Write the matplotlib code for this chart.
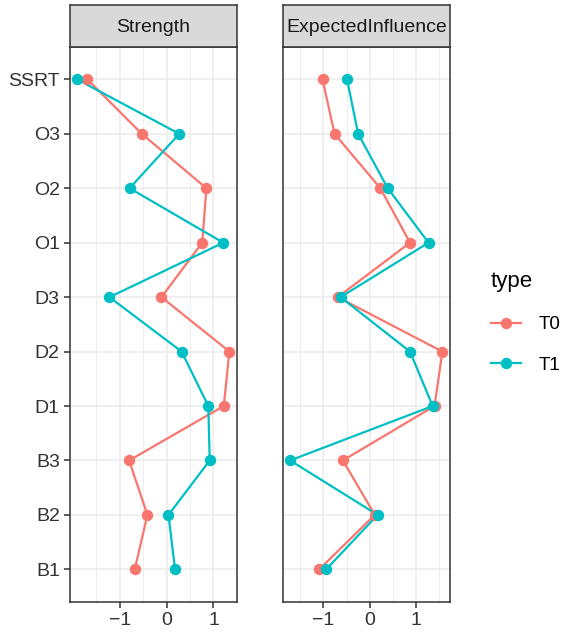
import matplotlib
matplotlib.use("Agg")
import matplotlib.pyplot as plt
from matplotlib.lines import Line2D
import numpy as np

plt.rcParams['font.family'] = ['Liberation Sans', 'DejaVu Sans']

nodes = ["B1", "B2", "B3", "D1", "D2", "D3", "O1", "O2", "O3", "SSRT"]
panels = ["Strength", "ExpectedInfluence"]
types = ["T0", "T1"]
colors = {"T0": "#F8766D", "T1": "#00BFC4"}

strength_T0 = [-0.68, -0.41, -0.80, 1.22, 1.34, -0.11, 0.76, 0.85, -0.53, -1.69]
strength_T1 = [0.18, 0.04, 0.92, 0.89, 0.32, -1.22, 1.21, -0.79, 0.27, -1.91]
ei_T0 = [-1.09, 0.11, -0.58, 1.40, 1.57, -0.69, 0.87, 0.23, -0.76, -1.02]
ei_T1 = [-0.94, 0.17, -1.72, 1.36, 0.87, -0.63, 1.27, 0.39, -0.25, -0.49]

data = {
    "Strength": {"T0": strength_T0, "T1": strength_T1},
    "ExpectedInfluence": {"T0": ei_T0, "T1": ei_T1},
}
xticks = [-1, 0, 1]

W, H = 567, 635
fig = plt.figure(figsize=(W / 100, H / 100), dpi=100)

panel_px = [(69.5, 237), (282.5, 450)]
top_px, bot_px = 46.7, 602
strip_top_px = 5

ypos = np.arange(len(nodes))
for i, (pname, (x0, x1)) in enumerate(zip(panels, panel_px)):
    ax = fig.add_axes([x0 / W, 1 - bot_px / H, (x1 - x0) / W, (bot_px - top_px) / H])
    ax.set_facecolor("white")
    allv = np.array(data[pname]["T0"] + data[pname]["T1"])
    lo, hi = allv.min(), allv.max()
    pad = 0.05 * (hi - lo)
    ax.set_xlim(lo - pad, hi + pad)
    ax.set_ylim(-0.6, len(nodes) - 1 + 0.6)
    ax.set_xticks(xticks)
    ax.set_xticklabels(["\u22121" if t == -1 else str(t) for t in xticks])
    ax.set_xticks([-1.5, -0.5, 0.5, 1.5], minor=True)
    ax.set_yticks(ypos)
    ax.grid(True, which="major", color="#EBEBEB", linewidth=1.1, zorder=0)
    ax.grid(True, which="minor", axis="x", color="#EBEBEB", linewidth=0.6, zorder=0)
    ax.set_axisbelow(True)
    ax.tick_params(axis="both", which="major", labelsize=14, colors="#333333",
                   labelcolor="#333333", length=4, width=1.1, pad=3)
    ax.tick_params(axis="x", which="minor", length=0)
    if i == 0:
        ax.set_yticklabels(nodes)
    else:
        ax.set_yticklabels([])
        ax.tick_params(axis="y", which="both", length=0)
    for s in ax.spines.values():
        s.set_color("#333333")
        s.set_linewidth(1.1)
    for t in types:
        ax.plot(data[pname][t], ypos, color=colors[t], linewidth=1.6, zorder=3)
    for t in types:
        ax.plot(data[pname][t], ypos, linestyle="none", marker="o", markersize=7.2,
                color=colors[t], zorder=4)
    # strip
    sax = fig.add_axes([x0 / W, 1 - top_px / H, (x1 - x0) / W, (top_px - strip_top_px) / H])
    sax.set_facecolor("#D9D9D9")
    sax.set_xticks([])
    sax.set_yticks([])
    for s in sax.spines.values():
        s.set_color("#333333")
        s.set_linewidth(1.1)
    sax.text(0.5, 0.45, pname, ha="center", va="center", fontsize=14, color="#1A1A1A",
             transform=sax.transAxes)

handles = [Line2D([0], [0], color=colors[t], linewidth=1.6, marker="o", markersize=7.2) for t in types]
leg = fig.legend(handles, types, title="type", loc="upper left",
                 bbox_to_anchor=(483 / W, 1 - 264 / H), frameon=False,
                 fontsize=13.5, title_fontsize=16, handlelength=1.65,
                 labelspacing=1.25, handletextpad=0.9, borderaxespad=0)
leg._legend_box.align = "left"

fig.savefig("out.png", dpi=100)
